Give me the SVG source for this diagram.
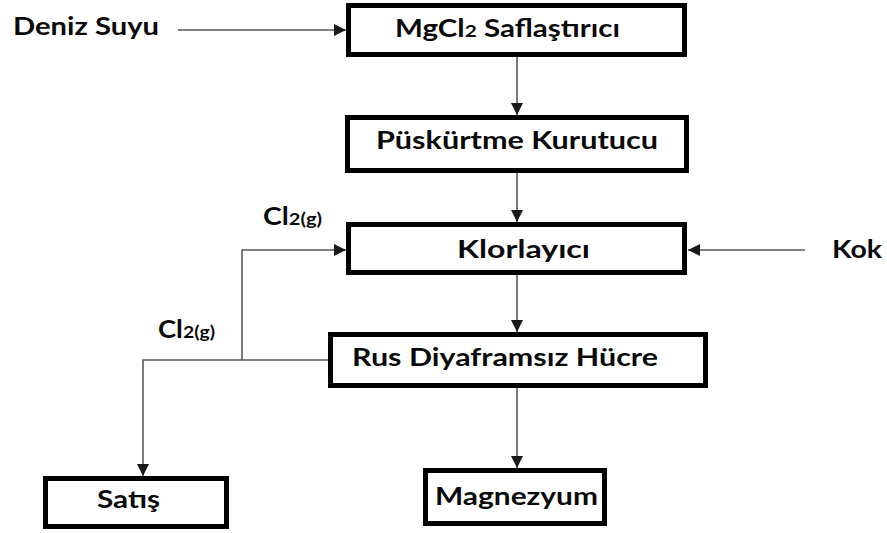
<svg xmlns="http://www.w3.org/2000/svg" width="887" height="533" viewBox="0 0 887 533">
  <defs>
    <marker id="arr" markerUnits="userSpaceOnUse" markerWidth="13" markerHeight="13" refX="12" refY="6.5" orient="auto">
      <path d="M0,0.5 L12,6.5 L0,12.5 z" fill="#1a1a1a"/>
    </marker>
    <style>
      .box { fill: #ffffff; stroke: #000000; stroke-width: 5; }
      .lbl { font-family: "Lato", "Liberation Sans", sans-serif; font-weight: 700; font-size: 24px; fill: #0a0a0a; }
      .sub { font-size: 17px; }
      .conn { fill: none; stroke: #5a5a5a; stroke-width: 1.6; }
      .arrow { marker-end: url(#arr); }
    </style>
  </defs>
  <rect width="887" height="533" fill="#ffffff"/>

  <g id="connectors">
    <line class="conn arrow" x1="178" y1="30" x2="346" y2="30"/>
    <line class="conn arrow" x1="517" y1="57" x2="517" y2="115"/>
    <line class="conn arrow" x1="517" y1="173" x2="517" y2="222"/>
    <line class="conn arrow" x1="805" y1="250" x2="688" y2="250"/>
    <line class="conn arrow" x1="517" y1="275" x2="517" y2="332"/>
    <line class="conn arrow" x1="517" y1="388" x2="517" y2="468"/>
    <polyline class="conn arrow" points="328,360 143,360 143,476"/>
    <polyline class="conn arrow" points="242,360 242,250 346,250"/>
  </g>

  <g id="deniz-suyu">
    <text class="lbl" x="13" y="35" textLength="146" lengthAdjust="spacingAndGlyphs">Deniz Suyu</text>
  </g>

  <g id="mgcl2-saflastirici">
    <rect class="box" x="348.5" y="5.5" width="336" height="49"/>
    <text class="lbl" x="395" y="37" textLength="225" lengthAdjust="spacingAndGlyphs">MgCl<tspan class="sub">2</tspan> Saflaştırıcı</text>
  </g>

  <g id="puskurtme-kurutucu">
    <rect class="box" x="347.5" y="117.5" width="339" height="53"/>
    <text class="lbl" x="376" y="149" textLength="282" lengthAdjust="spacingAndGlyphs">Püskürtme Kurutucu</text>
  </g>

  <g id="klorlayici">
    <rect class="box" x="348.5" y="224.5" width="336" height="48"/>
    <text class="lbl" x="457" y="258" textLength="133" lengthAdjust="spacingAndGlyphs">Klorlayıcı</text>
  </g>

  <g id="kok">
    <text class="lbl" x="832" y="258" textLength="50" lengthAdjust="spacingAndGlyphs">Kok</text>
  </g>

  <g id="cl2-top">
    <text class="lbl" x="263" y="225" textLength="59" lengthAdjust="spacingAndGlyphs">Cl<tspan class="sub">2(g)</tspan></text>
  </g>

  <g id="cl2-left">
    <text class="lbl" x="158" y="338" textLength="57" lengthAdjust="spacingAndGlyphs">Cl<tspan class="sub">2(g)</tspan></text>
  </g>

  <g id="rus-diyaframsiz-hucre">
    <rect class="box" x="330.5" y="334.5" width="375" height="51"/>
    <text class="lbl" x="352" y="366" textLength="306" lengthAdjust="spacingAndGlyphs">Rus Diyaframsız Hücre</text>
  </g>

  <g id="satis">
    <rect class="box" x="45.5" y="478.5" width="181" height="48"/>
    <text class="lbl" x="97" y="508" textLength="63" lengthAdjust="spacingAndGlyphs">Satış</text>
  </g>

  <g id="magnezyum">
    <rect class="box" x="425.5" y="470.5" width="179" height="53"/>
    <text class="lbl" x="435" y="505" textLength="163" lengthAdjust="spacingAndGlyphs">Magnezyum</text>
  </g>
</svg>
